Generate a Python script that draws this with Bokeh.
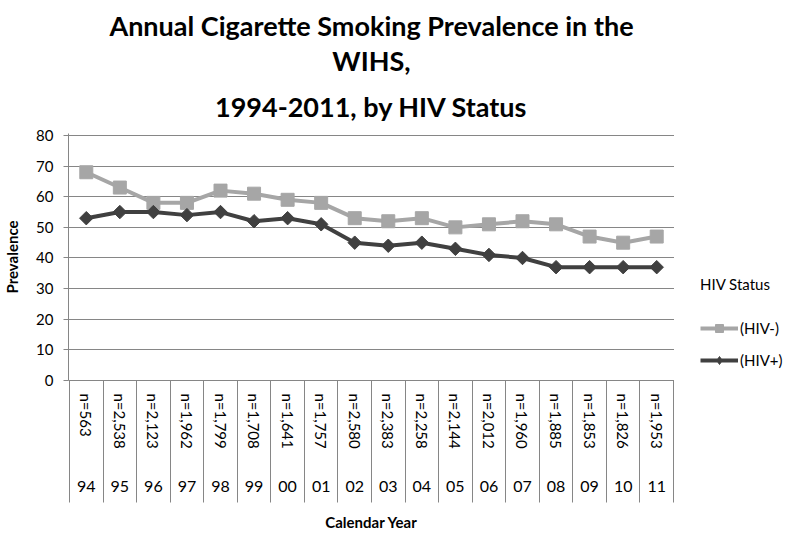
from bokeh.plotting import figure
from bokeh.models import (Range1d, FixedTicker, Legend, LegendItem, Title, LinearAxis)
from bokeh.layouts import row
from bokeh.embed import file_html
from bokeh.resources import INLINE

# ---- data ----
years = ["94", "95", "96", "97", "98", "99", "00", "01", "02", "03",
         "04", "05", "06", "07", "08", "09", "10", "11"]
n_labels = ["n=563", "n=2,538", "n=2,123", "n=1,962", "n=1,799", "n=1,708",
            "n=1,641", "n=1,757", "n=2,580", "n=2,383", "n=2,258", "n=2,144",
            "n=2,012", "n=1,960", "n=1,885", "n=1,853", "n=1,826", "n=1,953"]
hiv_neg = [68, 63, 58, 58, 62, 61, 59, 58, 53, 52, 53, 50, 51, 52, 51, 47, 45, 47]
hiv_pos = [53, 55, 55, 54, 55, 52, 53, 51, 45, 44, 45, 43, 41, 40, 37, 37, 37, 37]
y_ticks = [0, 10, 20, 30, 40, 50, 60, 70, 80]
title_lines = ["Annual Cigarette Smoking Prevalence in the", "WIHS,",
               "1994-2011, by HIV Status"]
series_names = ["(HIV-)", "(HIV+)"]
legend_title = "HIV Status"

FONT = "Lato"
GRID = "#868686"
C_NEG = "#A6A6A6"
C_POS = "#404040"

ncat = len(years)
xc = [i + 0.5 for i in range(ncat)]
bounds = [float(i) for i in range(ncat + 1)]

TOP, FH, BOTTOM, LEFT, FW = 133, 247, 152, 62, 606
H = TOP + FH + BOTTOM
SEP = 122  # length of the category separators below the plot

p = figure(frame_width=FW, frame_height=FH, output_backend="svg",
           toolbar_location=None, x_axis_type=None,
           x_range=Range1d(-0.03, ncat + 0.03), y_range=Range1d(0, 80.65),
           min_border_left=LEFT, min_border_right=0, min_border_top=TOP,
           min_border_bottom=BOTTOM)
p.outline_line_color = None
p.xgrid.visible = False
p.ygrid.ticker = FixedTicker(ticks=y_ticks)
p.ygrid.grid_line_color = GRID

# y axis
p.yaxis.ticker = FixedTicker(ticks=y_ticks)
p.yaxis.axis_line_color = GRID
p.yaxis.major_tick_line_color = GRID
p.yaxis.major_tick_out = 5
p.yaxis.major_tick_in = 0
p.yaxis.minor_tick_line_color = None
p.yaxis.major_label_text_font = FONT
p.yaxis.major_label_text_font_size = "15px"
p.yaxis.major_label_text_color = "black"
p.yaxis.major_label_standoff = 10
p.yaxis.axis_label = "Prevalence"
p.yaxis.axis_label_text_font = FONT
p.yaxis.axis_label_text_font_style = "bold"
p.yaxis.axis_label_text_font_size = "15px"
p.yaxis.axis_label_text_color = "black"
p.yaxis.axis_label_standoff = 12

# category axis 1: sample sizes (rotated) + separators as minor ticks
ax_n = LinearAxis(ticker=FixedTicker(ticks=xc, minor_ticks=bounds),
                  major_label_overrides=dict(zip(xc, n_labels)),
                  major_label_orientation="vertical",
                  major_label_standoff=13 - SEP,
                  major_label_text_font=FONT, major_label_text_font_size="15px",
                  major_label_text_color="black",
                  major_tick_line_color=None, major_tick_out=0, major_tick_in=0,
                  minor_tick_line_color=GRID, minor_tick_out=SEP, minor_tick_in=0,
                  axis_line_color=GRID)
# category axis 2: years + axis title
ax_y = LinearAxis(ticker=FixedTicker(ticks=xc),
                  major_label_overrides=dict(zip(xc, years)),
                  major_label_standoff=29,
                  major_label_text_font=FONT, major_label_text_font_size="16px",
                  major_label_text_color="black",
                  major_tick_line_color=None, major_tick_out=0, major_tick_in=0,
                  minor_tick_line_color=None, axis_line_color=None,
                  axis_label="Calendar Year", axis_label_standoff=18,
                  axis_label_text_font=FONT, axis_label_text_font_style="bold",
                  axis_label_text_font_size="15px", axis_label_text_color="black")
p.add_layout(ax_n, "below")
p.add_layout(ax_y, "below")

# series
p.line(xc, hiv_neg, line_color=C_NEG, line_width=4)
p.scatter(xc, hiv_neg, marker="square", size=13, fill_color=C_NEG, line_color=C_NEG)
p.line(xc, hiv_pos, line_color=C_POS, line_width=4)
p.scatter(xc, hiv_pos, marker="square", angle=0.785398, size=9.5,
          fill_color=C_POS, line_color=C_POS)

# title (three centred lines, innermost added first)
for txt, so in [(title_lines[2], 22), (title_lines[1], 0), (title_lines[0], 0)]:
    p.add_layout(Title(text=txt, align="center", text_font=FONT,
                       text_font_size="27px", text_font_style="bold",
                       text_color="black", standoff=so), "above")

# legend panel at the right (same series drawn outside its visible range)
LW = 784 - (LEFT + FW)
pl = figure(width=LW, height=H, output_backend="svg", toolbar_location=None,
            x_axis_type=None, y_axis_type=None, min_border=0,
            x_range=Range1d(-2, -1), y_range=Range1d(-2, -1))
pl.outline_line_color = None
pl.grid.visible = False
r1 = [pl.line(xc, hiv_neg, line_color=C_NEG, line_width=4),
      pl.scatter(xc, hiv_neg, marker="square", size=13, fill_color=C_NEG, line_color=C_NEG)]
r2 = [pl.line(xc, hiv_pos, line_color=C_POS, line_width=4),
      pl.scatter(xc, hiv_pos, marker="diamond", size=15,
                 fill_color=C_POS, line_color=C_POS)]
legend = Legend(items=[LegendItem(label=series_names[0], renderers=r1),
                       LegendItem(label=series_names[1], renderers=r2)],
                title=legend_title, location=(26, 9))
legend.title_text_font = FONT
legend.title_text_font_size = "15px"
legend.title_text_font_style = "normal"
legend.title_text_color = "black"
legend.title_standoff = 25
legend.label_text_font = FONT
legend.label_text_font_size = "15px"
legend.label_text_color = "black"
legend.glyph_width = 38
legend.glyph_height = 20
legend.label_height = 20
legend.spacing = 12
legend.label_standoff = 2
legend.border_line_color = None
legend.background_fill_alpha = 0
legend.margin = 0
legend.padding = 0
pl.add_layout(legend)

layout = row(p, pl)
open("out.html", "w").write(file_html(layout, INLINE))
